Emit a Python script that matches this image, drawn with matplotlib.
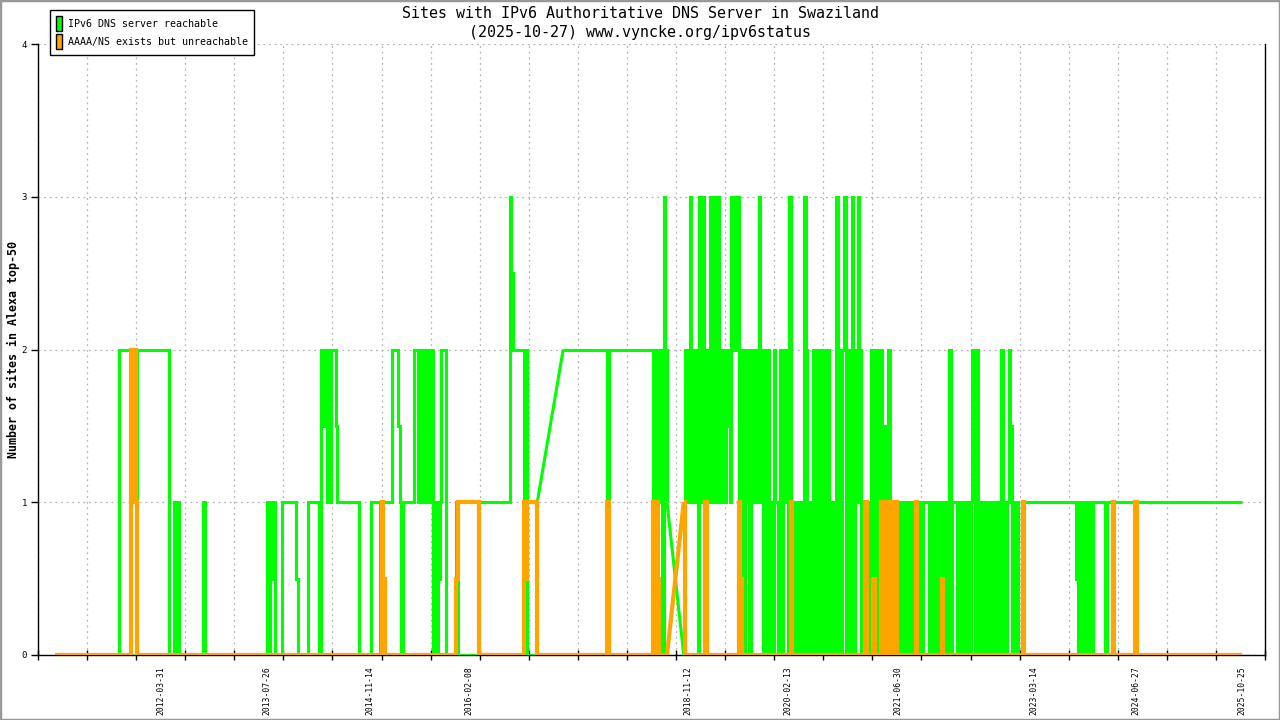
import matplotlib
matplotlib.use("Agg")
import matplotlib.pyplot as plt
import matplotlib.dates as mdates
from matplotlib.patches import Rectangle, Patch
import numpy as np
import pandas as pd

TITLE1 = "Sites with IPv6 Authoritative DNS Server in Swaziland"
TITLE2 = "(2025-10-27) www.vyncke.org/ipv6status"
YLABEL = "Number of sites in Alexa top-50"
LEGEND_LABELS = ["IPv6 DNS server reachable", "AAAA/NS exists but unreachable"]
COLORS = ["#00ff00", "#ffa500"]

# weekly samples starting on this date; '-' = no data (line bridges the gap)
START_DATE = "2010-11-29"
CODE = {"0": 0.0, "h": 0.5, "1": 1.0, "H": 1.5, "2": 2.0, "T": 2.5, "3": 3.0}

# run-length chunks: (pattern, repeat)
reachable_runs = [
    ("0", 42), ("2", 8), ("0", 4), ("2", 21), ("0", 3), ("101", 1), ("0", 16), ("1", 1),
    ("0", 41), ("101h1", 1), ("0", 5), ("1", 9), ("h", 1), ("0", 7), ("1", 7), ("0", 1),
    ("2H2H121222H", 1), ("1", 14), ("0", 8), ("1", 6), ("0h", 1), ("1", 6), ("2", 4),
    ("H10", 1), ("1", 7), ("2", 3), ("1212121212", 1), ("010h1", 1), ("2", 3), ("0", 7),
    ("1", 1), ("0", 14), ("1", 20), ("3T", 1), ("2", 7), ("02", 1), ("0", 7), ("1", 1),
    ("-", 16), ("2", 29), ("0", 1), ("2", 29), ("1212120321", 1), ("-", 10), ("0", 1),
    ("21231212", 1), ("03131021", 1), ("31312312", 1), ("121H2132", 1), ("3231", 1),
    ("02021202", 1), ("12123120", 1), ("20201021", 1),
    ("10202120", 1), ("30101010", 1), ("10320110", 1), ("20202020", 1),
    ("12010103", 1), ("02023020", 1), ("13021320", 1), ("10111020", 1),
    ("202020H0", 1), ("12010101", 1),
    ("01010101", 1), ("01101010", 1), ("11110101", 1), ("01101010", 1), ("12011101", 1),
    ("01010101", 1), ("21020101", 1), ("01101101", 1), ("01020101", 1), ("2H010100", 1),
    ("011", 1), ("1", 33), ("h01101010101", 1), ("1", 7), ("0", 1), ("1", 4), ("0", 1),
    ("1", 14), ("h", 1), ("1", 70),
]

unreachable_runs = [
    ("0", 50), ("2121", 1), ("0", 160), ("1h", 1), ("0", 47), ("h", 1), ("1", 14),
    ("0", 29), ("1h", 1), ("1", 7), ("0", 1), ("-", 16), ("0", 29), ("1", 1), ("0", 29),
    ("101h0", 1), ("0", 5), ("-", 10), ("1", 1), ("0", 13), ("1", 1), ("0", 21), ("1h", 1),
    ("0", 32), ("1", 1), ("0", 48), ("1", 1), ("0", 4), ("h", 1), ("0", 4), ("1010101", 1),
    ("0", 1), ("1h10", 1), ("0", 11), ("1", 1), ("0", 16), ("h", 1), ("0", 52), ("1", 1),
    ("0", 58), ("1", 1), ("0", 14), ("1", 1), ("0", 70),
]

DATE_LABELS = ["2012-03-31", "2013-07-26", "2014-11-14", "2016-02-08", "2018-11-12",
               "2020-02-13", "2021-06-30", "2023-03-14", "2024-06-27", "2025-10-25"]
XLIM = ("2010-09-12", "2026-02-08")
YTICKS = [0, 1, 2, 3, 4]


def expand(runs):
    s = "".join(p * n for p, n in runs)
    dates = pd.to_datetime(START_DATE) + pd.to_timedelta(np.arange(len(s)) * 7, unit="D")
    return s, dates


def draw_series(ax, runs, color, lw, z):
    s, dates = expand(runs)
    assert len(s) == 779, len(s)
    segs, cur = [], []
    for c, d in zip(s, dates):
        if c == "-":
            if cur:
                segs.append(cur)
                cur = []
        else:
            cur.append((d, CODE[c]))
    if cur:
        segs.append(cur)
    for i, seg in enumerate(segs):
        xs = [p[0] for p in seg]
        ys = [p[1] for p in seg]
        ax.plot(xs, ys, color=color, lw=lw, drawstyle="steps-post",
                solid_joinstyle="miter", solid_capstyle="butt", zorder=z)
        if i + 1 < len(segs):
            nxt = segs[i + 1][0]
            ax.plot([seg[-1][0], nxt[0]], [seg[-1][1], nxt[1]], color=color, lw=lw,
                    solid_capstyle="butt", zorder=z)


W, H = 1280, 720
fig = plt.figure(figsize=(W / 100, H / 100), dpi=100)
ax = fig.add_axes([38 / W, 1 - 655 / H, (1265 - 38) / W, (655 - 44) / H])

mono = "DejaVu Sans Mono"
draw_series(ax, reachable_runs, COLORS[0], 2.2, 3)
draw_series(ax, unreachable_runs, COLORS[1], 3.0, 4)

x0, x1 = mdates.datestr2num(XLIM[0]), mdates.datestr2num(XLIM[1])
ax.set_xlim(x0, x1)
ax.set_ylim(0, 4)

# uniform minor ticks (grid) and labelled dates
ax.set_xticks(np.linspace(x0, x1, 26), minor=True)
ax.set_xticks(mdates.datestr2num(DATE_LABELS))
ax.set_xticklabels(DATE_LABELS, rotation=90, fontsize=5.8, family=mono, va="top", ha="center")
ax.tick_params(axis="x", which="major", length=0, pad=8)
ax.tick_params(axis="x", which="minor", length=7, width=1, direction="inout", color="black")
ax.set_yticks(YTICKS)
ax.set_yticklabels([str(v) for v in YTICKS], fontsize=6.5, family=mono)
ax.tick_params(axis="y", length=5, width=1, direction="out", pad=3)

gridkw = dict(color="#b4b4b4", lw=0.9, linestyle=(0, (1.5, 3)))
ax.grid(axis="x", which="minor", **gridkw)
ax.grid(axis="y", which="major", **gridkw)
ax.set_axisbelow(True)

for s in ["left", "right", "bottom"]:
    ax.spines[s].set_color("black")
    ax.spines[s].set_linewidth(1)
ax.spines["top"].set_visible(False)

fig.text(0.5, 1 - 13 / H, TITLE1, ha="center", va="center", family=mono, fontsize=10.8)
fig.text(0.5, 1 - 32 / H, TITLE2, ha="center", va="center", family=mono, fontsize=10.8)
fig.text(13 / W, 1 - 349 / H, YLABEL, rotation=90, ha="center", va="center",
         family=mono, fontsize=8.4, fontweight="bold")

handles = [Patch(facecolor=c, edgecolor="black", lw=1) for c in COLORS]
leg = fig.legend(handles, LEGEND_LABELS, loc="upper left",
                 bbox_to_anchor=(50 / W, 1 - 10 / H), prop={"family": mono, "size": 7.2},
                 frameon=True, fancybox=False, framealpha=1, edgecolor="black",
                 handlelength=0.6, handleheight=2.0, handletextpad=0.6,
                 labelspacing=0.25, borderpad=0.6, borderaxespad=0)
leg.get_frame().set_linewidth(1)

fig.patches.append(Rectangle((0, 0), 1, 1, transform=fig.transFigure, fill=False,
                             edgecolor="#999999", lw=2.5))

fig.savefig("out.png", dpi=100)
